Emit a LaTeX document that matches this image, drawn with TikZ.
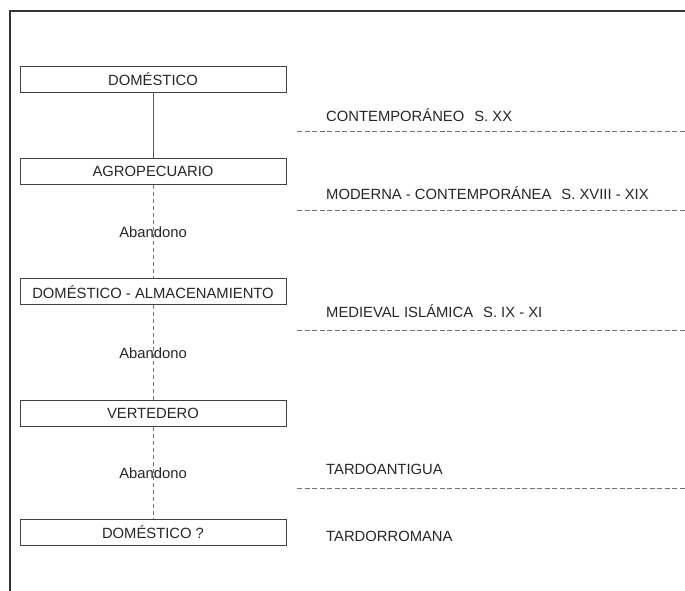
\documentclass[tikz,border=0pt]{standalone}
\usepackage{fontspec}
\setmainfont{Liberation Sans}
\usetikzlibrary{positioning}

\begin{document}
\begin{tikzpicture}[x=1pt,y=-1pt]
   \tikzset{fase node/.style={rectangle, draw=black!75, line width=0.9pt,
   		minimum width=266pt, minimum height=26pt, inner sep=0pt,
   		text=black!85, text centered, font=\fontsize{14.8}{16}\selectfont}, }
   \tikzset{periodo node/.style={anchor=west, inner sep=0pt,
   		text=black!85, font=\fontsize{14.8}{16}\selectfont}, }
   \tikzset{abandono/.style={draw=black!55, dash pattern=on 4pt off 3pt, line width=0.8pt,
   		every node/.style={text=black!85, font=\fontsize{14.8}{16}\selectfont}},}
   \tikzset{continuo/.style={draw=black!65, line width=0.8pt},}
   \tikzset{separa/.style={draw=black!55, dash pattern=on 5pt off 2.5pt, line width=0.8pt},}
   \tikzset{marco/.style={draw=black!80, line width=1.4pt},}

\useasboundingbox (0,0) rectangle (685,591);
\draw[marco] (685,11) -- (10,11) -- (10,591);

\node[fase node] (1) at (153,79) {DOMÉSTICO};
\node[fase node] (2) [below =66pt of 1] {AGROPECUARIO};
\node[fase node] (3) [below =93pt of 2] {DOMÉSTICO - ALMACENAMIENTO};
\node[fase node] (4) [below =95pt of 3] {VERTEDERO};
\node[fase node] (5) [below =92pt of 4] {DOMÉSTICO ?};

\path[continuo] (1) edge (2);
\foreach \x /\y in{2/3,3/4,4/5}
\path[abandono] (\x) edge node {Abandono} (\y);

% periodos
\node[periodo node] (p1) at (326,115) {CONTEMPORÁNEO\hspace{10pt}S. XX};
\node[periodo node] (p2) at (326,193) {MODERNA - CONTEMPORÁNEA\hspace{10pt}S. XVIII - XIX};
\node[periodo node] (p3) at (326,311) {MEDIEVAL ISLÁMICA\hspace{10pt}S. IX - XI};
\node[periodo node] (p4) at (326,469) {TARDOANTIGUA};
\node[periodo node] (p5) at (326,536) {TARDORROMANA};

\foreach \y in {131,210,330,488}{
\coordinate (sa) at (297,\y);
\coordinate (sb) at (685,\y);
\draw[separa] (sa) -- (sb);}
\end{tikzpicture}
\end{document}
